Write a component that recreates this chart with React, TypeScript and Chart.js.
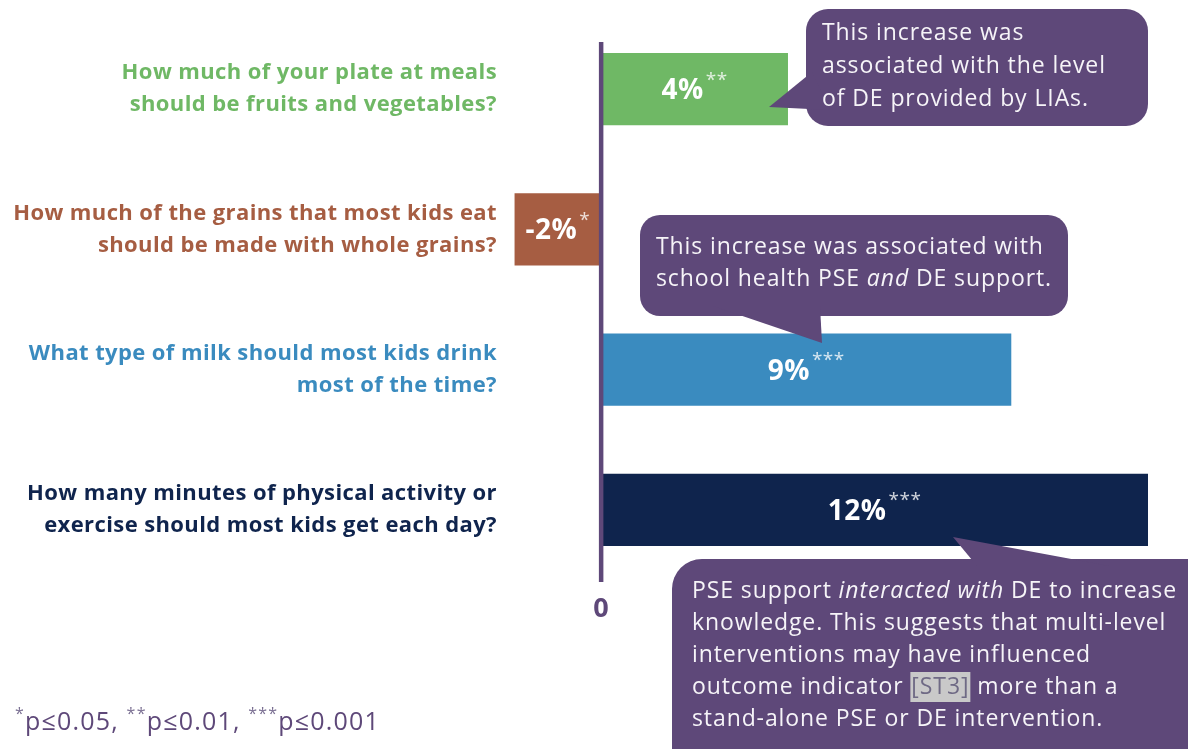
import React, { useEffect, useRef } from 'react';
import { Chart, registerables } from 'chart.js';

Chart.register(...registerables);

// ---------- data ----------
const categories: string[][] = [
  ['How much of your plate at meals', 'should be fruits and vegetables?'],
  ['How much of the grains that most kids eat', 'should be made with whole grains?'],
  ['What type of milk should most kids drink', 'most of the time?'],
  ['How many minutes of physical activity or', 'exercise should most kids get each day?'],
];
const changeValues = [4.1, -1.9, 9.0, 12.0];
const valueLabels = ['4%', '-2%', '9%', '12%'];
const significance = ['**', '*', '***', '***'];
const barColors = ['#6fb865', '#a65d42', '#3a8bbf', '#0f244d'];
const labelColors = ['#6fb865', '#a65d42', '#3a8bbf', '#0f244d'];
const axisTicks = [0];
const footnoteParts: [string, string][] = [
  ['*', 'p≤0.05, '],
  ['**', 'p≤0.01, '],
  ['***', 'p≤0.001'],
];

type Run = { text: string; italic?: boolean; highlight?: boolean };
const calloutTexts: Run[][][] = [
  [
    [{ text: 'This increase was' }],
    [{ text: 'associated with the level' }],
    [{ text: 'of DE provided by LIAs.' }],
  ],
  [
    [{ text: 'This increase was associated with' }],
    [{ text: 'school health PSE ' }, { text: 'and', italic: true }, { text: ' DE support.' }],
  ],
  [
    [{ text: 'PSE support ' }, { text: 'interacted with', italic: true }, { text: ' DE to increase' }],
    [{ text: 'knowledge. This suggests that multi-level' }],
    [{ text: 'interventions may have influenced' }],
    [{ text: 'outcome indicator ' }, { text: '[ST3]', highlight: true }, { text: ' more than a' }],
    [{ text: 'stand-alone PSE or DE intervention.' }],
  ],
];

// ---------- annotation layout (styling, not data) ----------
const calloutLayout = [
  { box: [806, 9, 342, 117, 22], pointer: [[812, 72], [769, 107], [830, 110]], textX: 822, textY: 33, lineGap: 33 },
  { box: [640, 215, 428, 101, 20], pointer: [[713, 306], [822, 343], [820, 306]], textX: 656, textY: 247, lineGap: 32 },
  { box: [672, 559, 560, 230, 30], pointer: [[977, 566], [953, 537], [1109, 566]], textX: 692, textY: 591, lineGap: 32 },
];

const PURPLE = '#5e4879';
const FONT = '"Open Sans", Lato, sans-serif';

function roundRect(ctx: CanvasRenderingContext2D, x: number, y: number, w: number, h: number, r: number) {
  ctx.beginPath();
  ctx.moveTo(x + r, y);
  ctx.lineTo(x + w - r, y);
  ctx.arcTo(x + w, y, x + w, y + r, r);
  ctx.lineTo(x + w, y + h - r);
  ctx.arcTo(x + w, y + h, x + w - r, y + h, r);
  ctx.lineTo(x + r, y + h);
  ctx.arcTo(x, y + h, x, y + h - r, r);
  ctx.lineTo(x, y + r);
  ctx.arcTo(x, y, x + r, y, r);
  ctx.closePath();
}

const spacingPlugin = {
  id: 'spacing',
  beforeDraw(chart: any) {
    (chart.ctx as any).letterSpacing = '0.4px';
  },
};

const overlayPlugin = {
  id: 'overlay',
  afterDatasetsDraw(chart: any) {
    const ctx: any = chart.ctx;
    const xs = chart.scales.x;
    const ys = chart.scales.y;
    const zeroX = xs.getPixelForValue(0);

    // value labels inside bars
    const meta = chart.getDatasetMeta(0);
    meta.data.forEach((el: any, i: number) => {
      const { x, base, y } = el.getProps(['x', 'base', 'y'], true);
      const cx = (x + base) / 2;
      ctx.save();
      ctx.letterSpacing = '0.5px';
      ctx.textBaseline = 'middle';
      ctx.font = `bold 28px ${FONT}`;
      const mainW = ctx.measureText(valueLabels[i]).width;
      ctx.font = `19px ${FONT}`;
      const supW = ctx.measureText(significance[i]).width;
      const start = cx - (mainW + supW + 2) / 2;
      ctx.fillStyle = '#ffffff';
      ctx.font = `bold 28px ${FONT}`;
      ctx.textAlign = 'left';
      ctx.fillText(valueLabels[i], start, y + 2);
      ctx.fillStyle = 'rgba(255,255,255,0.8)';
      ctx.font = `19px ${FONT}`;
      ctx.fillText(significance[i], start + mainW + 2, y - 9);
      ctx.restore();
    });

    // zero axis line
    ctx.save();
    ctx.strokeStyle = PURPLE;
    ctx.lineWidth = 4.5;
    ctx.beginPath();
    ctx.moveTo(zeroX, ys.top + 23);
    ctx.lineTo(zeroX, ys.bottom + 2);
    ctx.stroke();
    ctx.restore();

    // callouts
    calloutLayout.forEach((c, ci) => {
      const [bx, by, bw, bh, br] = c.box;
      ctx.save();
      ctx.fillStyle = PURPLE;
      roundRect(ctx, bx, by, bw, bh, br);
      ctx.fill();
      ctx.beginPath();
      ctx.moveTo(c.pointer[0][0], c.pointer[0][1]);
      ctx.lineTo(c.pointer[1][0], c.pointer[1][1]);
      ctx.lineTo(c.pointer[2][0], c.pointer[2][1]);
      ctx.closePath();
      ctx.fill();
      ctx.textBaseline = 'middle';
      ctx.textAlign = 'left';
      ctx.letterSpacing = '0.9px';
      calloutTexts[ci].forEach((line, li) => {
        let cx = c.textX;
        const ty = c.textY + li * c.lineGap;
        line.forEach((r) => {
          ctx.font = `${r.italic ? 'italic ' : ''}23px ${FONT}`;
          const w = ctx.measureText(r.text).width;
          if (r.highlight) {
            ctx.fillStyle = '#c9c9c9';
            ctx.fillRect(cx, ty - 15, w + 2, 30);
            ctx.fillStyle = '#6f6a85';
            ctx.fillText(r.text, cx + 1, ty);
            cx += w + 2;
          } else {
            ctx.fillStyle = '#f6f4f8';
            ctx.fillText(r.text, cx, ty);
            cx += w;
          }
        });
      });
      ctx.restore();
    });

    // footnote
    ctx.save();
    ctx.textBaseline = 'middle';
    ctx.textAlign = 'left';
    ctx.letterSpacing = '1.2px';
    let fx = 15;
    const fy = 723;
    footnoteParts.forEach(([sup, txt]) => {
      ctx.fillStyle = '#7a6f92';
      ctx.font = `16px ${FONT}`;
      ctx.fillText(sup, fx, fy - 9);
      fx += ctx.measureText(sup).width;
      ctx.fillStyle = PURPLE;
      ctx.font = `25px ${FONT}`;
      ctx.fillText(txt, fx, fy);
      fx += ctx.measureText(txt).width;
    });
    ctx.restore();
    ctx.letterSpacing = '0px';
  },
};

export default function App() {
  const ref = useRef<HTMLCanvasElement | null>(null);
  useEffect(() => {
    if (!ref.current) return;
    const chart = new Chart(ref.current, {
      type: 'bar',
      data: {
        labels: categories as any,
        datasets: [
          {
            data: changeValues,
            backgroundColor: barColors,
            borderWidth: 0,
            barPercentage: 0.514,
            categoryPercentage: 1,
          },
        ],
      },
      options: {
        indexAxis: 'y',
        responsive: false,
        animation: false,
        layout: { padding: { top: 19, right: 40, left: 0, bottom: 109 } },
        plugins: { legend: { display: false }, tooltip: { enabled: false } },
        scales: {
          x: {
            min: -2,
            max: 12,
            grid: { display: false, drawTicks: false },
            border: { display: false },
            ticks: {
              color: PURPLE,
              padding: 13,
              font: { family: FONT, weight: 'bold', size: 27, lineHeight: 1.2 },
            },
            afterBuildTicks: (s: any) => {
              s.ticks = axisTicks.map((v) => ({ value: v }));
            },
            afterFit: (s: any) => {
              s.height = 60;
              s.paddingLeft = 0;
              s.paddingRight = 0;
            },
          },
          y: {
            grid: { display: false, drawTicks: false },
            border: { display: false },
            ticks: {
              color: (c: any) => labelColors[c.index],
              padding: 13,
              font: { family: FONT, weight: 'bold', size: 22, lineHeight: 1.45 },
            },
            afterFit: (s: any) => {
              s.width = 510;
              s.paddingTop = 0;
              s.paddingBottom = 0;
            },
          },
        },
      } as any,
      plugins: [spacingPlugin, overlayPlugin],
    });
    return () => chart.destroy();
  }, []);
  return (
    <div style={{ position: 'fixed', left: 0, top: 0, width: 1188, height: 749, background: '#fff' }}>
      <canvas ref={ref} width={1188} height={749} style={{ display: 'block' }} />
    </div>
  );
}
